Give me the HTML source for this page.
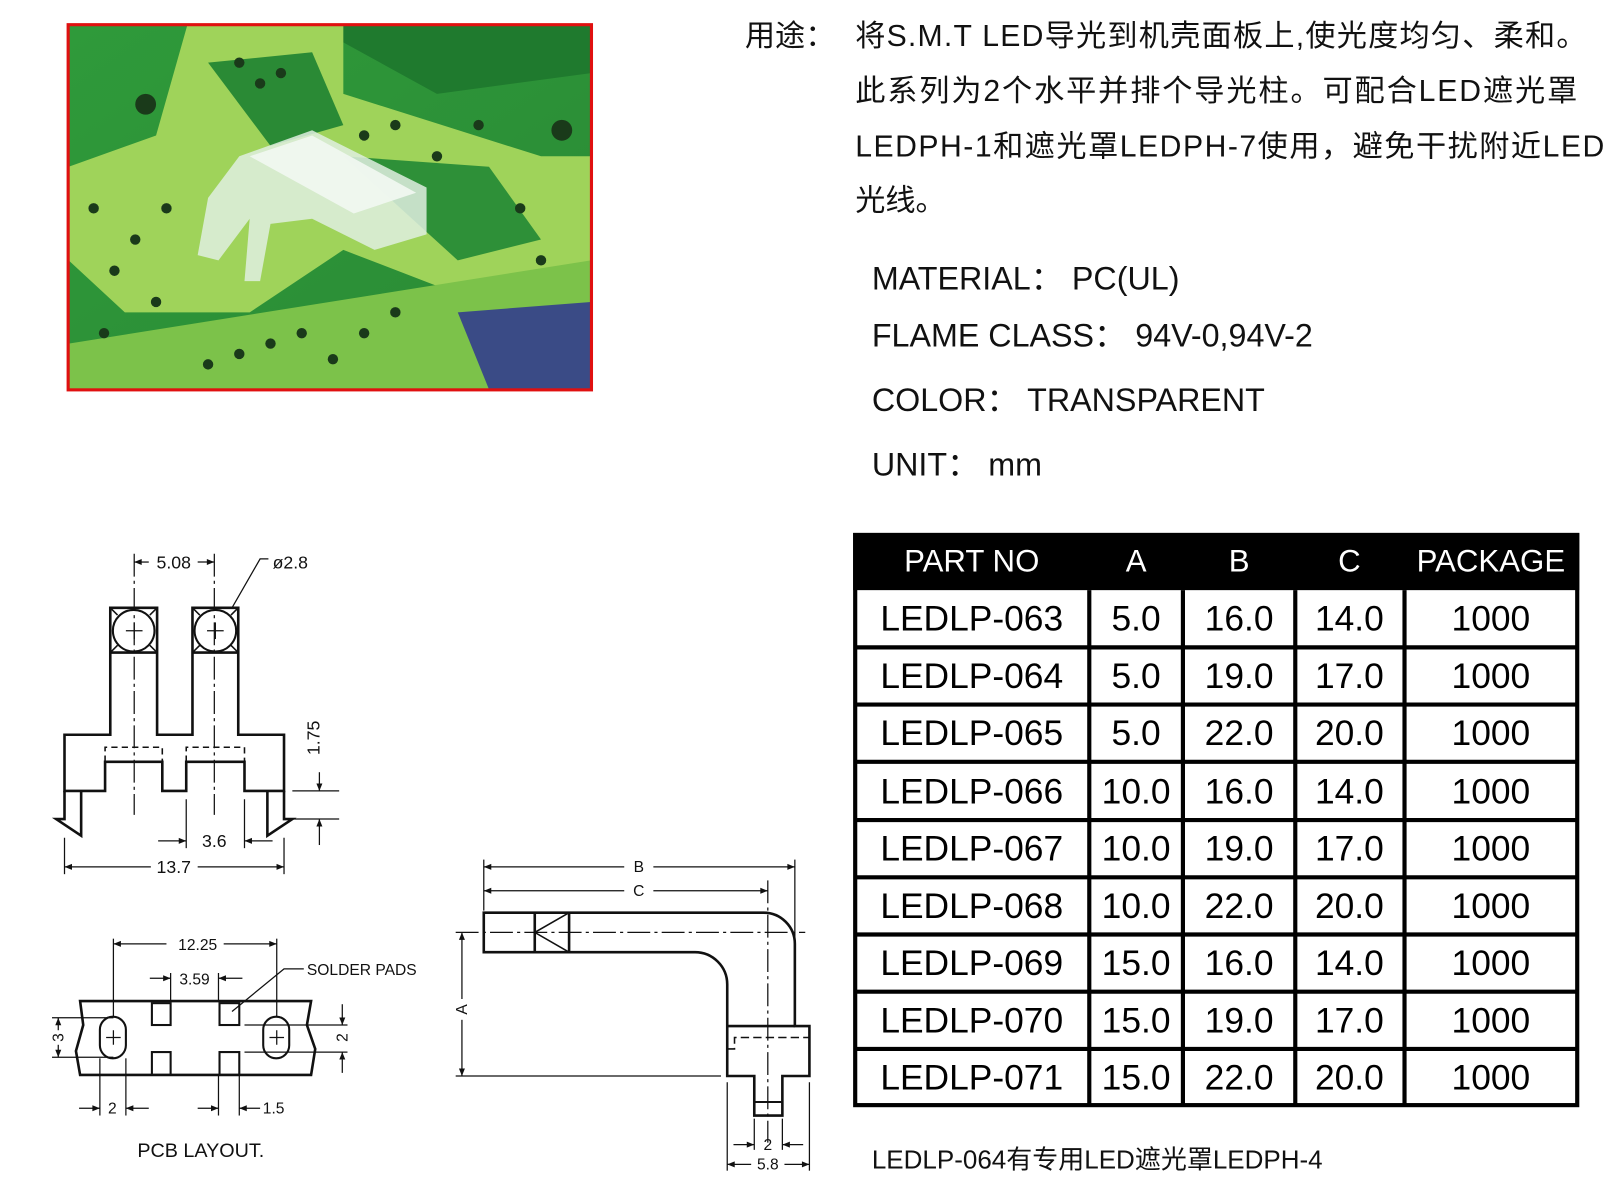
<!DOCTYPE html>
<html><head><meta charset="utf-8"><style>
html,body{margin:0;padding:0;background:#fff;width:1623px;height:1199px;overflow:hidden}
svg{display:block}
.cj{font-family:"Liberation Sans","Noto Sans CJK SC",sans-serif;font-size:29px;fill:#111}
.d{font-family:"Liberation Sans",sans-serif;font-size:17px;fill:#111}
.s{font-family:"Liberation Sans",sans-serif;font-size:15px;fill:#111}
.cell{font-family:"Liberation Sans",sans-serif;font-size:34px;fill:#000;text-anchor:middle}
.hd{font-family:"Liberation Sans",sans-serif;font-size:30px;fill:#fff;text-anchor:middle}
</style></head><body>
<svg width="1623" height="1199" viewBox="0 0 1560 1152" xmlns="http://www.w3.org/2000/svg">
<defs>
<marker id="ar" viewBox="0 0 10 10" refX="10" refY="5" markerWidth="8" markerHeight="6" orient="auto-start-reverse"><path d="M0,1 L10,5 L0,9 z" fill="#111"/></marker>
<linearGradient id="pg" x1="0" y1="0" x2="1" y2="1"><stop offset="0" stop-color="#2f9a3a"/><stop offset="1" stop-color="#2a8a35"/></linearGradient>
<clipPath id="pc"><rect x="66" y="24" width="502" height="350"/></clipPath>
</defs>
<g clip-path="url(#pc)">
<rect x="66" y="24" width="502" height="350" fill="url(#pg)"/>
<path d="M66,24 L300,24 L420,90 L568,70 L568,24 Z" fill="#1f7a2e"/>
<path d="M180,24 L330,24 L330,90 L520,150 L568,150 L568,280 L460,290 L330,240 L240,300 L120,300 L66,250 L66,160 L150,130 Z" fill="#9fd35a"/>
<path d="M200,60 L300,50 L330,120 L260,140 Z" fill="#2a8a35"/>
<path d="M330,150 L470,160 L520,230 L440,250 Z" fill="#2e9038"/>
<path d="M66,330 L568,250 L568,374 L66,374 Z" fill="#7cc24a"/>
<path d="M440,300 L568,290 L568,374 L470,374 Z" fill="#3a4b86"/>
<g fill="#1a3a1a">
<circle cx="140" cy="100" r="10"/><circle cx="540" cy="125" r="10"/><circle cx="110" cy="260" r="5"/><circle cx="130" cy="230" r="5"/><circle cx="160" cy="200" r="5"/><circle cx="90" cy="200" r="5"/><circle cx="200" cy="350" r="5"/><circle cx="230" cy="340" r="5"/><circle cx="260" cy="330" r="5"/><circle cx="290" cy="320" r="5"/><circle cx="320" cy="345" r="5"/><circle cx="350" cy="320" r="5"/><circle cx="380" cy="300" r="5"/><circle cx="230" cy="60" r="5"/><circle cx="250" cy="80" r="5"/><circle cx="270" cy="70" r="5"/><circle cx="350" cy="130" r="5"/><circle cx="380" cy="120" r="5"/><circle cx="420" cy="150" r="5"/><circle cx="460" cy="120" r="5"/><circle cx="100" cy="320" r="5"/><circle cx="150" cy="290" r="5"/><circle cx="520" cy="250" r="5"/><circle cx="500" cy="200" r="5"/>
</g>
<path d="M230,150 L300,125 L410,180 L410,225 L360,240 L300,210 L260,215 L250,270 L235,270 L240,210 L210,250 L190,245 L200,190 Z" fill="#dfeee0" opacity="0.85"/>
<path d="M240,150 L300,130 L400,185 L340,205 Z" fill="#f2f8f2" opacity="0.9"/>
</g>
<rect x="65.5" y="23.5" width="503" height="351" fill="none" stroke="#e01010" stroke-width="3"/>

<text class="cj" x="716" y="44">用途：</text>
<text class="cj" x="822" y="44" textLength="703">将S.M.T LED导光到机壳面板上,使光度均匀、柔和。</text>
<text class="cj" x="822" y="97" textLength="694">此系列为2个水平并排个导光柱。可配合LED遮光罩</text>
<text class="cj" x="822" y="150" textLength="720">LEDPH-1和遮光罩LEDPH-7使用，避免干扰附近LED</text>
<text class="cj" x="822" y="202">光线。</text>
<text class="cj" x="838" y="278" style="font-size:31px">MATERIAL： PC(UL)</text>
<text class="cj" x="838" y="333" style="font-size:31px">FLAME CLASS： 94V-0,94V-2</text>
<text class="cj" x="838" y="395" style="font-size:31px">COLOR： TRANSPARENT</text>
<text class="cj" x="838" y="457" style="font-size:31px">UNIT： mm</text>

<rect x="820" y="512" width="698" height="55" fill="#000"/>
<text class="hd" x="934" y="549">PART NO</text><text class="hd" x="1092" y="549">A</text><text class="hd" x="1191" y="549">B</text><text class="hd" x="1297" y="549">C</text><text class="hd" x="1433" y="549">PACKAGE</text>
<g stroke="#000" stroke-width="4" fill="none">
<rect x="822" y="514" width="694" height="548"/>
<line x1="822" y1="622" x2="1516" y2="622"/><line x1="822" y1="677" x2="1516" y2="677"/><line x1="822" y1="732" x2="1516" y2="732"/><line x1="822" y1="788" x2="1516" y2="788"/><line x1="822" y1="843" x2="1516" y2="843"/><line x1="822" y1="898" x2="1516" y2="898"/><line x1="822" y1="953" x2="1516" y2="953"/><line x1="822" y1="1008" x2="1516" y2="1008"/>
<line x1="1047" y1="567" x2="1047" y2="1062"/><line x1="1137" y1="567" x2="1137" y2="1062"/><line x1="1245" y1="567" x2="1245" y2="1062"/><line x1="1350" y1="567" x2="1350" y2="1062"/>
</g>
<g class="cell">
<text x="934" y="606">LEDLP-063</text><text x="1092" y="606">5.0</text><text x="1191" y="606">16.0</text><text x="1297" y="606">14.0</text><text x="1433" y="606">1000</text>
<text x="934" y="661">LEDLP-064</text><text x="1092" y="661">5.0</text><text x="1191" y="661">19.0</text><text x="1297" y="661">17.0</text><text x="1433" y="661">1000</text>
<text x="934" y="716">LEDLP-065</text><text x="1092" y="716">5.0</text><text x="1191" y="716">22.0</text><text x="1297" y="716">20.0</text><text x="1433" y="716">1000</text>
<text x="934" y="772">LEDLP-066</text><text x="1092" y="772">10.0</text><text x="1191" y="772">16.0</text><text x="1297" y="772">14.0</text><text x="1433" y="772">1000</text>
<text x="934" y="827">LEDLP-067</text><text x="1092" y="827">10.0</text><text x="1191" y="827">19.0</text><text x="1297" y="827">17.0</text><text x="1433" y="827">1000</text>
<text x="934" y="882">LEDLP-068</text><text x="1092" y="882">10.0</text><text x="1191" y="882">22.0</text><text x="1297" y="882">20.0</text><text x="1433" y="882">1000</text>
<text x="934" y="937">LEDLP-069</text><text x="1092" y="937">15.0</text><text x="1191" y="937">16.0</text><text x="1297" y="937">14.0</text><text x="1433" y="937">1000</text>
<text x="934" y="992">LEDLP-070</text><text x="1092" y="992">15.0</text><text x="1191" y="992">19.0</text><text x="1297" y="992">17.0</text><text x="1433" y="992">1000</text>
<text x="934" y="1047">LEDLP-071</text><text x="1092" y="1047">15.0</text><text x="1191" y="1047">22.0</text><text x="1297" y="1047">20.0</text><text x="1433" y="1047">1000</text>
</g>
<text class="cj" x="838" y="1123" style="font-size:25px">LEDLP-064有专用LED遮光罩LEDPH-4</text>

<g stroke="#111" fill="none">
<g stroke-width="2.5">
<path d="M62,706 L106,706 L106,584 L151,584 L151,706 L185,706 L185,584 L229,584 L229,706 L273,706 L273,760 L235,760 L235,732 L179,732 L179,760 L156,760 L156,732 L101,732 L101,760 L62,760 Z"/>
<path d="M62,760 L62,787 L54,787 L78,803 L78,760"/>
<path d="M273,760 L273,787 L281,787 L257,803 L257,760"/>
<line x1="106" y1="627" x2="151" y2="627"/><line x1="185" y1="627" x2="229" y2="627"/>
</g>
<circle cx="128.5" cy="606" r="20" stroke-width="2"/><circle cx="207" cy="606" r="20" stroke-width="2"/>
<path d="M106,584 L113,591 M151,584 L144,591 M106,627 L113,620 M151,627 L144,620 M185,584 L192,591 M229,584 L222,591 M185,627 L192,620 M229,627 L222,620" stroke-width="1.5"/>
<path d="M101,732 L101,718 L156,718 L156,732 M179,732 L179,718 L235,718 L235,732" stroke-dasharray="6,4" stroke-width="1.5"/>
<g stroke-width="1.2">
<path d="M129,532 L129,783 M206,532 L206,783" stroke-dasharray="22,4,3,4"/>
<line x1="121" y1="606" x2="137" y2="606"/><line x1="129" y1="598" x2="129" y2="614"/>
<line x1="199" y1="606" x2="215" y2="606"/><line x1="207" y1="598" x2="207" y2="614"/>
<line x1="129" y1="540" x2="143" y2="540" marker-start="url(#ar)"/><line x1="190" y1="540" x2="206" y2="540" marker-end="url(#ar)"/>
<path d="M223,584 L250,537 L258,537"/>
<line x1="281" y1="760" x2="326" y2="760"/><line x1="281" y1="787" x2="326" y2="787"/>
<line x1="307" y1="742" x2="307" y2="760" marker-end="url(#ar)"/><line x1="307" y1="812" x2="307" y2="787" marker-end="url(#ar)"/>
<line x1="179" y1="768" x2="179" y2="815"/><line x1="235" y1="768" x2="235" y2="815"/>
<line x1="152" y1="808" x2="179" y2="808" marker-end="url(#ar)"/><line x1="262" y1="808" x2="235" y2="808" marker-end="url(#ar)"/>
<line x1="62" y1="805" x2="62" y2="840"/><line x1="273" y1="805" x2="273" y2="840"/>
<line x1="62" y1="833" x2="145" y2="833" marker-start="url(#ar)"/><line x1="190" y1="833" x2="273" y2="833" marker-end="url(#ar)"/>
</g>
</g>
<text class="d" x="167" y="546" text-anchor="middle">5.08</text>
<text class="d" x="262" y="546">ø2.8</text>
<text class="d" x="313" y="715" text-anchor="middle" transform="rotate(-90 307 715)">1.75</text>
<text class="d" x="206" y="814" text-anchor="middle">3.6</text>
<text class="d" x="167" y="839" text-anchor="middle">13.7</text>

<g stroke="#111" fill="none">
<path d="M77,962 L299,962 L295,985 L303,1008 L299,1033 L77,1033 L73,1010 L80,985 Z" stroke-width="2.5"/>
<g stroke-width="2">
<rect x="146" y="964" width="18" height="21"/><rect x="211" y="964" width="19" height="21"/>
<rect x="146" y="1011" width="18" height="22"/><rect x="211" y="1011" width="19" height="22"/>
<rect x="96" y="977" width="25" height="40" rx="12.5"/><rect x="253" y="977" width="25" height="40" rx="12.5"/>
</g>
<g stroke-width="1.2">
<path d="M102,997 L116,997 M109,990 L109,1004 M259,997 L273,997 M266,990 L266,1004"/>
<line x1="109" y1="902" x2="109" y2="977"/><line x1="266" y1="902" x2="266" y2="977"/>
<line x1="109" y1="907" x2="160" y2="907" marker-start="url(#ar)"/><line x1="215" y1="907" x2="266" y2="907" marker-end="url(#ar)"/>
<line x1="164" y1="935" x2="164" y2="962"/><line x1="210" y1="935" x2="210" y2="962"/>
<line x1="144" y1="940" x2="164" y2="940" marker-end="url(#ar)"/><line x1="233" y1="940" x2="210" y2="940" marker-end="url(#ar)"/>
<path d="M223,972 L273,931 L292,931"/>
<line x1="50" y1="978" x2="109" y2="978"/><line x1="50" y1="1016" x2="109" y2="1016"/>
<line x1="56" y1="990" x2="56" y2="978" marker-end="url(#ar)"/><line x1="56" y1="1004" x2="56" y2="1016" marker-end="url(#ar)"/>
<line x1="235" y1="985" x2="334" y2="985"/><line x1="235" y1="1011" x2="334" y2="1011"/>
<line x1="329" y1="965" x2="329" y2="985" marker-end="url(#ar)"/><line x1="329" y1="1031" x2="329" y2="1011" marker-end="url(#ar)"/>
<line x1="96" y1="1017" x2="96" y2="1072"/><line x1="121" y1="1017" x2="121" y2="1072"/>
<line x1="76" y1="1065" x2="96" y2="1065" marker-end="url(#ar)"/><line x1="143" y1="1065" x2="121" y2="1065" marker-end="url(#ar)"/>
<line x1="210" y1="1033" x2="210" y2="1072"/><line x1="230" y1="1033" x2="230" y2="1072"/>
<line x1="190" y1="1065" x2="210" y2="1065" marker-end="url(#ar)"/><line x1="250" y1="1065" x2="230" y2="1065" marker-end="url(#ar)"/>
</g>
</g>
<text class="s" x="190" y="913" text-anchor="middle">12.25</text>
<text class="s" x="187" y="946" text-anchor="middle">3.59</text>
<text class="s" x="295" y="937">SOLDER  PADS</text>
<text class="s" x="56" y="1002" text-anchor="middle" transform="rotate(-90 56 997)">3</text>
<text class="s" x="329" y="1002" text-anchor="middle" transform="rotate(-90 329 997)">2</text>
<text class="s" x="108" y="1070" text-anchor="middle">2</text>
<text class="s" x="263" y="1070" text-anchor="middle">1.5</text>
<text class="d" x="193" y="1112" text-anchor="middle" style="font-size:19px">PCB  LAYOUT.</text>

<g stroke="#111" fill="none">
<g stroke-width="2.5">
<path d="M465,877 L734,877 A30,30 0 0 1 764,907 L764,986 L778,986 L778,1034 L752,1034 L752,1072 L725,1072 L725,1034 L699,1034 L699,986 L699,946 A31,31 0 0 0 668,915 L465,915 Z"/>
<line x1="699" y1="986" x2="764" y2="986"/>
<line x1="514" y1="877" x2="514" y2="915"/><line x1="547" y1="877" x2="547" y2="915"/>
<line x1="725" y1="1059" x2="752" y2="1059" stroke-width="2"/>
</g>
<path d="M547,877 L514,896 L547,915" stroke-width="1.5"/>
<path d="M699,1008 L706,1008 L706,997 L778,997" stroke-dasharray="8,4" stroke-width="1.5"/>
<g stroke-width="1.2">
<path d="M438,896 L774,896" stroke-dasharray="22,4,3,4"/>
<path d="M738,846 L738,1098" stroke-dasharray="22,4,3,4"/>
<line x1="465" y1="826" x2="465" y2="875"/><line x1="764" y1="826" x2="764" y2="905"/>
<line x1="465" y1="833" x2="600" y2="833" marker-start="url(#ar)"/><line x1="628" y1="833" x2="764" y2="833" marker-end="url(#ar)"/>
<line x1="465" y1="856" x2="600" y2="856" marker-start="url(#ar)"/><line x1="628" y1="856" x2="738" y2="856" marker-end="url(#ar)"/>
<line x1="438" y1="1034" x2="693" y2="1034"/>
<line x1="444" y1="960" x2="444" y2="896" marker-end="url(#ar)"/><line x1="444" y1="980" x2="444" y2="1034" marker-end="url(#ar)"/>
<line x1="699" y1="1040" x2="699" y2="1125"/><line x1="778" y1="1040" x2="778" y2="1125"/>
<line x1="725" y1="1075" x2="725" y2="1105"/><line x1="752" y1="1075" x2="752" y2="1105"/>
<line x1="705" y1="1100" x2="725" y2="1100" marker-end="url(#ar)"/><line x1="772" y1="1100" x2="752" y2="1100" marker-end="url(#ar)"/>
<line x1="699" y1="1119" x2="722" y2="1119" marker-start="url(#ar)"/><line x1="754" y1="1119" x2="778" y2="1119" marker-end="url(#ar)"/>
</g>
</g>
<text class="s" x="614" y="838" text-anchor="middle">B</text>
<text class="s" x="614" y="861" text-anchor="middle">C</text>
<text class="s" x="444" y="975" text-anchor="middle" transform="rotate(-90 444 970)">A</text>
<text class="s" x="738" y="1105" text-anchor="middle">2</text>
<text class="s" x="738" y="1124" text-anchor="middle">5.8</text>
</svg>
</body></html>
